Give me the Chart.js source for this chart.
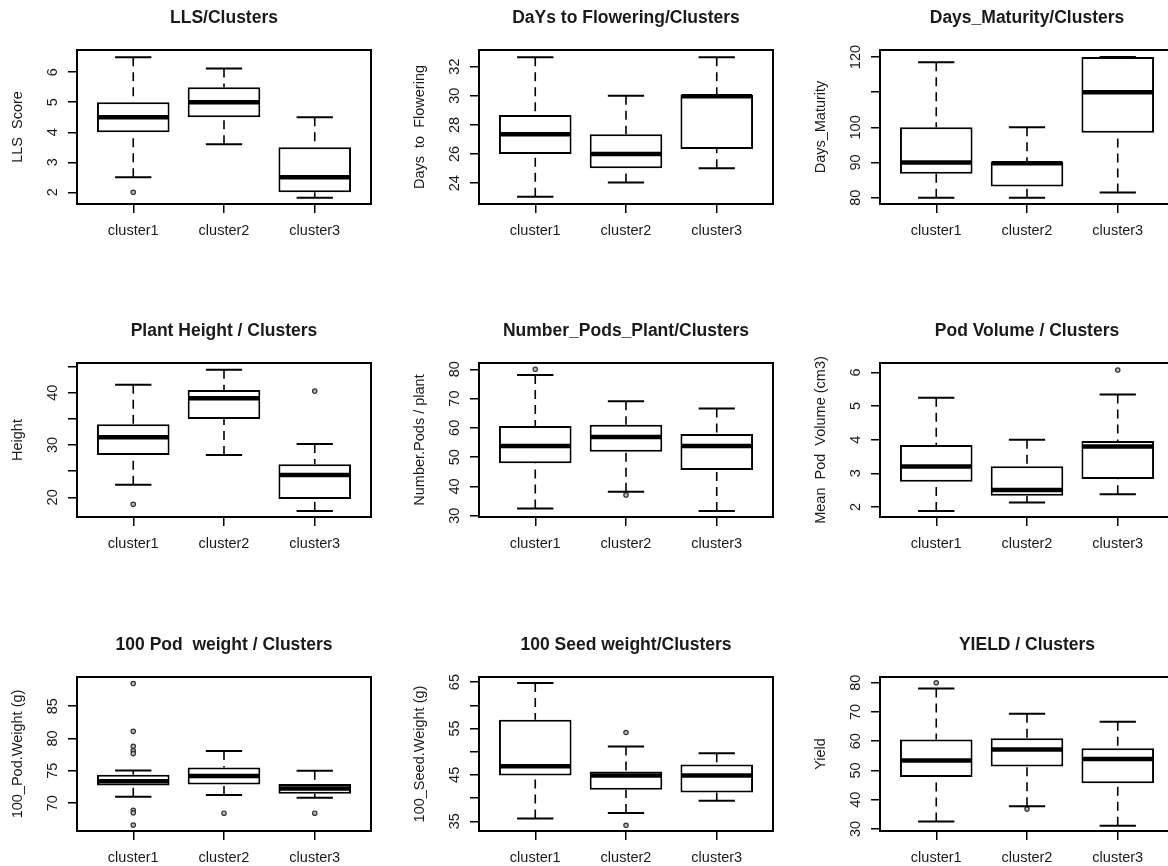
<!DOCTYPE html>
<html>
<head>
<meta charset="utf-8">
<title>Cluster boxplots</title>
<script src="https://cdn.jsdelivr.net/npm/chart.js@4.4.1/dist/chart.umd.min.js"></script>
<style>
  html, body { margin: 0; padding: 0; background: #fff; width: 1168px; height: 866px; overflow: hidden; position: relative; }
  .panel { position: absolute; width: 390px; height: 312px; }
</style>
</head>
<body>
<script>
// ---- data ---------------------------------------------------------------
const clusters = ['cluster1', 'cluster2', 'cluster3'];

// each cluster: [lower whisker, Q1, median, Q3, upper whisker]
const llsStats = [[2.5, 4.0, 4.5, 5.0, 6.5], [3.6, 4.5, 5.0, 5.5, 6.12], [1.82, 2.0, 2.5, 3.5, 4.5]];
const llsOutliers = [[2.0], [], []];
const llsRange = [1.61, 6.74];
const llsTicks = [2, 3, 4, 5, 6];
const llsTickLabels = [2, 3, 4, 5, 6];

const floweringStats = [[23.07, 26.0, 27.36, 28.68, 32.65], [24.05, 25.02, 26.0, 27.36, 30.0], [25.02, 26.34, 29.97, 30.05, 32.65]];
const floweringOutliers = [[], [], []];
const floweringRange = [22.57, 33.14];
const floweringTicks = [24, 26, 28, 30, 32];
const floweringTickLabels = [24, 26, 28, 30, 32];

const maturityStats = [[80, 86.8, 90, 100, 118.5], [80, 83.2, 89.8, 90.2, 100], [81.5, 98.5, 110, 120, 120]];
const maturityOutliers = [[], [], []];
const maturityRange = [78.2, 122.0];
const maturityTicks = [80, 90, 100, 110, 120];
const maturityTickLabels = [80, 90, 100, 120];

const heightStats = [[22.4, 28.1, 31.5, 33.95, 41.5], [28.1, 34.97, 38.95, 40.5, 44.4], [17.4, 19.7, 24.25, 26.3, 30.2]];
const heightOutliers = [[18.66], [], [40.3]];
const heightRange = [16.24, 45.67];
const heightTicks = [20, 25, 30, 35, 40, 45];
const heightTickLabels = [20, 30, 40];

const podsStats = [[32.5, 47.95, 53.8, 60.6, 78.05], [38.2, 51.8, 56.9, 61.1, 69.1], [31.6, 45.6, 53.8, 57.9, 66.6]];
const podsOutliers = [[80], [37.1], []];
const podsRange = [29.56, 82.15];
const podsTicks = [30, 40, 50, 60, 70, 80];
const podsTickLabels = [30, 40, 50, 60, 70, 80];

const volumeStats = [[1.88, 2.75, 3.2, 3.84, 5.25], [2.13, 2.33, 2.5, 3.21, 4.0], [2.38, 2.83, 3.8, 3.96, 5.34]];
const volumeOutliers = [[], [], [6.07]];
const volumeRange = [1.70, 6.28];
const volumeTicks = [2, 3, 4, 5, 6];
const volumeTickLabels = [2, 3, 4, 5, 6];

const podWeightStats = [[71.0, 72.72, 73.4, 74.4, 75.05], [71.25, 72.9, 74.2, 75.5, 78.05], [70.83, 71.45, 72.28, 72.96, 75.0]];
const podWeightOutliers = [[88.5, 81.1, 78.8, 78.1, 77.66, 68.9, 68.5, 66.6], [68.44], [68.44]];
const podWeightRange = [65.69, 89.51];
const podWeightTicks = [70, 75, 80, 85];
const podWeightTickLabels = [70, 75, 80, 85];

const seedWeightStats = [[35.58, 44.86, 46.88, 56.88, 64.8], [36.8, 41.8, 44.86, 45.72, 51.09], [39.4, 41.2, 44.86, 47.25, 49.64]];
const seedWeightOutliers = [[], [54.13, 34.13], []];
const seedWeightRange = [32.9, 66.1];
const seedWeightTicks = [35, 40, 45, 50, 55, 60, 65];
const seedWeightTickLabels = [35, 45, 55, 65];

const yieldStats = [[32.6, 47.8, 53.4, 60.55, 78.05], [37.8, 51.4, 57.2, 61.0, 69.4], [31.1, 45.6, 53.9, 57.6, 66.7]];
const yieldOutliers = [[80], [36.8], []];
const yieldRange = [29.31, 81.96];
const yieldTicks = [30, 40, 50, 60, 70, 80];
const yieldTickLabels = [30, 40, 50, 60, 70, 80];

// ---- panels ---------------------------------------------------------------
const panels = [
  { left: 0,   top: 0,   title: 'LLS/Clusters',               ylab: 'LLS  Score',             stats: llsStats,        outliers: llsOutliers,        range: llsRange,        ticks: llsTicks,        tickLabels: llsTickLabels },
  { left: 402, top: 0,   title: 'DaYs to Flowering/Clusters', ylab: 'Days  to  Flowering',    stats: floweringStats,  outliers: floweringOutliers,  range: floweringRange,  ticks: floweringTicks,  tickLabels: floweringTickLabels },
  { left: 803, top: 0,   title: 'Days_Maturity/Clusters',     ylab: 'Days_Maturity',          stats: maturityStats,   outliers: maturityOutliers,   range: maturityRange,   ticks: maturityTicks,   tickLabels: maturityTickLabels },
  { left: 0,   top: 313, title: 'Plant Height / Clusters',    ylab: 'Height',                 stats: heightStats,     outliers: heightOutliers,     range: heightRange,     ticks: heightTicks,     tickLabels: heightTickLabels },
  { left: 402, top: 313, title: 'Number_Pods_Plant/Clusters', ylab: 'Number.Pods / plant',    stats: podsStats,       outliers: podsOutliers,       range: podsRange,       ticks: podsTicks,       tickLabels: podsTickLabels },
  { left: 803, top: 313, title: 'Pod Volume / Clusters',      ylab: 'Mean  Pod  Volume (cm3)', stats: volumeStats,    outliers: volumeOutliers,     range: volumeRange,     ticks: volumeTicks,     tickLabels: volumeTickLabels },
  { left: 0,   top: 627, title: '100 Pod  weight / Clusters', ylab: '100_Pod.Weight (g)',     stats: podWeightStats,  outliers: podWeightOutliers,  range: podWeightRange,  ticks: podWeightTicks,  tickLabels: podWeightTickLabels },
  { left: 402, top: 627, title: '100 Seed weight/Clusters',   ylab: '100_Seed.Weight (g)',    stats: seedWeightStats, outliers: seedWeightOutliers, range: seedWeightRange, ticks: seedWeightTicks, tickLabels: seedWeightTickLabels },
  { left: 803, top: 627, title: 'YIELD / Clusters',           ylab: 'Yield',                  stats: yieldStats,      outliers: yieldOutliers,      range: yieldRange,      ticks: yieldTicks,      tickLabels: yieldTickLabels }
];

const FONT = '"Liberation Sans", Arial, Helvetica, sans-serif';
const INK = '#1a1a1a';

// whiskers, caps, medians, frame, rotated y tick labels and the panel title
const rBoxPlugin = {
  id: 'rbox',
  afterDatasetsDraw(chart, args, opts) {
    const p = opts.panel;
    const { ctx, chartArea: a, scales: { x, y } } = chart;
    ctx.save();
    ctx.strokeStyle = '#000';
    ctx.lineCap = 'butt';
    p.stats.forEach((s, i) => {
      const cx = x.getPixelForValue(i + 1);
      const half = x.getPixelForValue(i + 1.4) - cx;
      const cap = half / 2;
      const seg = (x1, y1, x2, y2) => { ctx.beginPath(); ctx.moveTo(x1, y1); ctx.lineTo(x2, y2); ctx.stroke(); };
      // dashed whiskers from the whisker end toward the box
      ctx.setLineDash([9, 6]);
      ctx.lineWidth = 1.6;
      seg(cx, y.getPixelForValue(s[0]), cx, y.getPixelForValue(s[1]));
      seg(cx, y.getPixelForValue(s[4]), cx, y.getPixelForValue(s[3]));
      ctx.setLineDash([]);
      ctx.lineWidth = 2;
      seg(cx - cap, y.getPixelForValue(s[0]), cx + cap, y.getPixelForValue(s[0]));
      seg(cx - cap, y.getPixelForValue(s[4]), cx + cap, y.getPixelForValue(s[4]));
      // median
      ctx.lineWidth = 4.5;
      seg(cx - half + 1, y.getPixelForValue(s[2]), cx + half - 1, y.getPixelForValue(s[2]));
    });
    // plot frame
    ctx.lineWidth = 2;
    ctx.strokeRect(a.left, a.top, a.right - a.left, a.bottom - a.top);
    // y tick labels, rotated as in base graphics
    ctx.fillStyle = INK;
    ctx.font = '14.5px ' + FONT;
    ctx.textAlign = 'center';
    ctx.textBaseline = 'middle';
    y.ticks.forEach(t => {
      if (!p.tickLabels.includes(t.value)) return;
      ctx.save();
      ctx.translate(a.left - 24, y.getPixelForValue(t.value));
      ctx.rotate(-Math.PI / 2);
      ctx.fillText(String(t.value), 0, 0);
      ctx.restore();
    });
    // title
    ctx.font = 'bold 17.5px ' + FONT;
    ctx.fillText(p.title, (a.left + a.right) / 2, a.top - 32);
    ctx.restore();
  }
};

panels.forEach(p => {
  const div = document.createElement('div');
  div.className = 'panel';
  div.style.left = p.left + 'px';
  div.style.top = p.top + 'px';
  const cv = document.createElement('canvas');
  cv.width = 390;
  cv.height = 312;
  div.appendChild(cv);
  document.body.appendChild(div);

  const boxes = p.stats.map((s, i) => ({ x: i + 1, y: [s[1], s[3]] }));
  const points = [];
  p.outliers.forEach((list, i) => list.forEach(v => points.push({ x: i + 1, y: v })));

  new Chart(cv, {
    type: 'scatter',
    data: {
      datasets: [
        {
          type: 'bar',
          data: boxes,
          backgroundColor: '#fff',
          borderColor: '#000',
          borderWidth: 2,
          borderSkipped: false,
          categoryPercentage: 1,
          barPercentage: 0.8,
          grouped: false
        },
        {
          type: 'scatter',
          data: points,
          pointStyle: 'circle',
          pointRadius: 2.2,
          pointBorderWidth: 1.2,
          pointBorderColor: '#333',
          pointBackgroundColor: '#bbb'
        }
      ]
    },
    options: {
      responsive: false,
      animation: false,
      events: [],
      layout: { padding: { top: 50, right: 19, left: 0, bottom: 0 } },
      plugins: {
        legend: { display: false },
        tooltip: { enabled: false },
        title: { display: false },
        rbox: { panel: p }
      },
      scales: {
        x: {
          type: 'linear',
          min: 0.38,
          max: 3.62,
          offset: false,
          afterBuildTicks: s => { s.ticks = clusters.map((c, i) => ({ value: i + 1 })); },
          afterFit: s => { s.height = 108; },
          ticks: {
            autoSkip: false,
            maxRotation: 0,
            padding: 9,
            color: INK,
            font: { family: FONT, size: 14.5 },
            callback: v => clusters[v - 1]
          },
          grid: { offset: false, drawOnChartArea: false, drawTicks: true, tickLength: 9, color: '#000', lineWidth: 1.5 },
          border: { display: false }
        },
        y: {
          type: 'linear',
          min: p.range[0],
          max: p.range[1],
          beginAtZero: false,
          afterBuildTicks: s => { s.ticks = p.ticks.map(v => ({ value: v })); },
          afterFit: s => { s.width = 77; },
          ticks: { display: false },
          grid: { drawOnChartArea: false, drawTicks: true, tickLength: 9, color: '#000', lineWidth: 1.5 },
          border: { display: false },
          title: {
            display: true,
            text: p.ylab,
            color: INK,
            font: { family: FONT, size: 14.5 },
            padding: { top: 9, bottom: 0 }
          }
        }
      }
    },
    plugins: [rBoxPlugin]
  });
});
</script>
</body>
</html>
